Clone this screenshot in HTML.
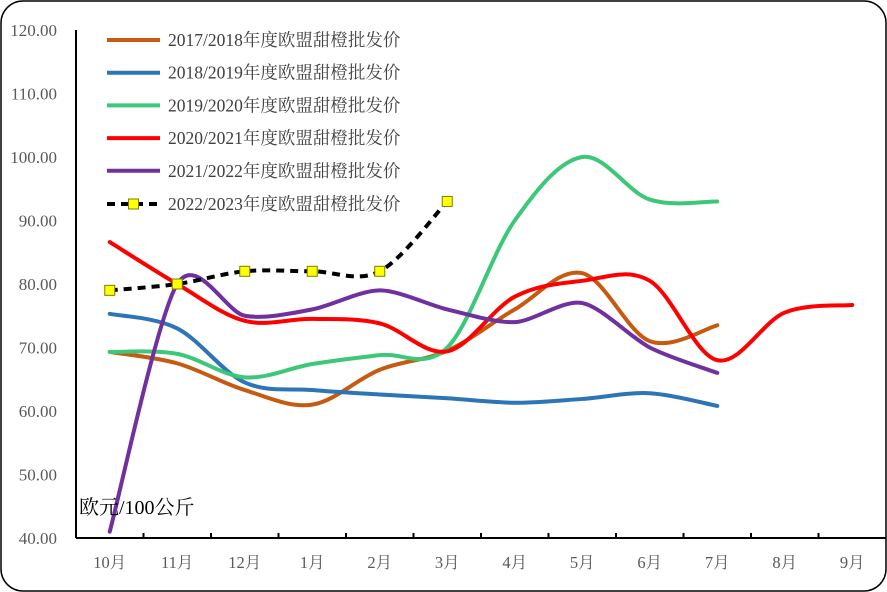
<!DOCTYPE html>
<html><head><meta charset="utf-8"><style>
body{margin:0;background:#fff}
svg{display:block}
text{font-family:"Liberation Serif","Noto Serif CJK SC","Noto Sans CJK SC",serif}
</style></head><body>
<svg id="s" width="887" height="592" xmlns="http://www.w3.org/2000/svg">
<rect x="1" y="1" width="885" height="590" rx="22" fill="#fff" stroke="#000" stroke-width="1.5"/>
<g id="ax"></g>
<g id="series"></g>
<g id="leg"></g>
<text x="79" y="514" font-size="20" fill="#000">欧元/100公斤</text>
</svg>
<script>
const NS="http://www.w3.org/2000/svg";
function el(t,a,p,txt){const e=document.createElementNS(NS,t);for(const k in a)e.setAttribute(k,a[k]);if(txt!==undefined)e.textContent=txt;p.appendChild(e);return e;}
const ax=document.getElementById('ax'),sr=document.getElementById('series'),lg=document.getElementById('leg');
const X0=76,DX=67.5;const Y=v=>538-(v-40)*6.35;const X=i=>X0+DX*(i+0.5);
el('line',{x1:X0,y1:30,x2:X0,y2:538,stroke:'#000','stroke-width':2},ax);
el('line',{x1:X0,y1:538,x2:886,y2:538,stroke:'#000','stroke-width':2},ax);
for(let v=40;v<=120;v+=10){el('text',{x:57,y:Y(v)+6,'font-size':17,fill:'#595959','text-anchor':'end'},ax,v.toFixed(2));}
const m=['10月','11月','12月','1月','2月','3月','4月','5月','6月','7月','8月','9月'];
for(let i=0;i<12;i++){el('text',{x:X(i),y:568,'font-size':16.5,fill:'#595959','text-anchor':'middle'},ax,m[i]);
 if(i>0)el('line',{x1:X0+DX*i,y1:538,x2:X0+DX*i,y2:533,stroke:'#000','stroke-width':2},ax);}
function path(d,t){t=t||6;const p=d.map((v,i)=>[X(i),Y(v)]);let s=`M${p[0][0]},${p[0][1]}`;
 for(let i=0;i<p.length-1;i++){const p0=p[i-1]||p[i],p1=p[i],p2=p[i+1],p3=p[i+2]||p2;
 s+=` C${p1[0]+(p2[0]-p0[0])/t},${p1[1]+(p2[1]-p0[1])/t} ${p2[0]-(p3[0]-p1[0])/t},${p2[1]-(p3[1]-p1[1])/t} ${p2[0]},${p2[1]}`;}return s;}
const S=[
['#C55A11','2017/2018年度欧盟甜橙批发价',[69.3,67.5,63.3,61,66.5,69.5,76,81.7,71,73.5]],
['#2E75B6','2018/2019年度欧盟甜橙批发价',[75.3,73,64.5,63.3,62.6,62,61.3,61.9,62.8,60.8]],
['#3CC878','2019/2020年度欧盟甜橙批发价',[69.3,69,65.3,67.4,68.8,70,90,100,93.3,93]],
['#FF0000','2020/2021年度欧盟甜橙批发价',[86.6,80,74.2,74.5,73.8,69.4,78,80.5,80.5,68,75.5,76.7]],
['#7030A0','2021/2022年度欧盟甜橙批发价',[41,80,75,76,79,76,74,77,70,66]],
];
S.forEach((s,k)=>{el('path',{d:path(s[2],k==4?7:6),fill:'none',stroke:s[0],'stroke-width':4,'stroke-linecap':'round'},sr);
 const y=40+k*32.7;el('line',{x1:107,y1:y,x2:160,y2:y,stroke:s[0],'stroke-width':4},lg);
 el('text',{x:168,y:y+6,'font-size':17.5,fill:'#404040'},lg,s[1]);});
const bd=[79,80,82,82,82,93];
el('path',{d:path(bd),fill:'none',stroke:'#000','stroke-width':4,'stroke-dasharray':'8,6'},sr);
bd.forEach((v,i)=>el('rect',{x:X(i)-5,y:Y(v)-5,width:10,height:10,fill:'#FFFF00',stroke:'#7F7F00','stroke-width':1},sr));
const y=204;el('line',{x1:107,y1:y,x2:160,y2:y,stroke:'#000','stroke-width':4,'stroke-dasharray':'8,6'},lg);
el('rect',{x:128.5,y:y-5,width:10,height:10,fill:'#FFFF00',stroke:'#7F7F00'},lg);
el('text',{x:168,y:y+6,'font-size':17.5,fill:'#404040'},lg,'2022/2023年度欧盟甜橙批发价');
</script>
</body></html>
